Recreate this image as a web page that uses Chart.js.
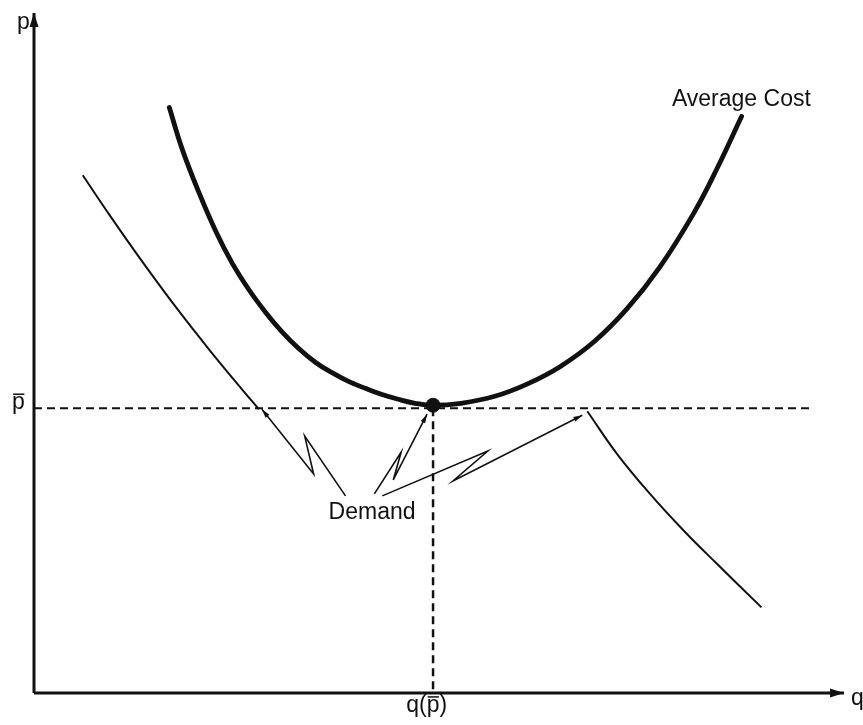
<!DOCTYPE html>
<html>
<head>
<meta charset="utf-8">
<script src="https://cdn.jsdelivr.net/npm/chart.js@4"></script>
<style>
  body { margin: 0; background: #fff; }
  canvas { display: block; }
</style>
</head>
<body>
<canvas id="chart" width="863" height="725"></canvas>
<script>
'use strict';

// everything is in axis units: q to the right, p upwards, origin at the corner of the axes

// Average Cost (U shaped)
let costQ = [13.6, 14.9, 16.6, 18.3, 19.9, 21.6, 23.3, 24.9, 26.6, 28.3, 29.9, 31.6, 33.3, 34.9, 36.6, 38.3, 40.1, 42.9, 46.3, 49.6, 52.9, 56.3, 59.6, 62.9, 66.3, 68.6, 71.1];
let costP = [58.8, 54.6, 50.2, 46.3, 43.2, 40.5, 38.2, 36.3, 34.6, 33.2, 32.2, 31.3, 30.6, 30.0, 29.5, 29.1, 28.9, 29.1, 29.8, 31.05, 32.8, 35.3, 38.6, 42.8, 48.2, 52.6, 57.9];

// demand curve on the left, ends on the p-bar line
let leftDemandQ = [4.9, 7.6, 10.9, 14.3, 17.6, 20.9, 22.6];
let leftDemandP = [52.0, 48.0, 43.3, 38.7, 34.5, 30.5, 28.5];

// demand curve on the right, starts on the p-bar line
let rightDemandQ = [55.6, 58.6, 61.9, 65.3, 68.6, 73.1];
let rightDemandP = [28.3, 24.0, 20.0, 16.3, 13.0, 8.6];

// minimum of average cost
let pBar = 28.6;
let qAtPBar = 40.1;
let pBarLineEnd = 78.1;

// zigzag leaders from the "Demand" label (last point is the arrow tip)
let leader1Q = [31.3, 27.2, 28.1, 22.9];
let leader1P = [19.8, 25.8, 22.0, 28.5];
let leader2Q = [34.2, 36.9, 36.1, 39.5];
let leader2P = [20.0, 24.2, 21.4, 28.0];
let leader3Q = [35.0, 45.6, 42.1, 55.1];
let leader3P = [19.8, 24.3, 21.3, 27.9];

// axis extents
let qAxisEnd = 81.4;
let pAxisEnd = 68.3;

let ink = '#111';

function toPoints(qs, ps) {
  return qs.map((q, i) => ({ x: q, y: ps[i] }));
}

function lineSet(qs, ps, width, extra) {
  return Object.assign({
    data: toPoints(qs, ps),
    showLine: true,
    borderColor: ink,
    backgroundColor: ink,
    borderWidth: width,
    pointRadius: 0,
    tension: 0,
    clip: false,
  }, extra || {});
}

const datasets = [
  // axes
  lineSet([0, 0], [0, pAxisEnd], 3, { arrowLen: 14, arrowWidth: 9 }),
  lineSet([0, qAxisEnd], [0, 0], 3, { arrowLen: 14, arrowWidth: 9 }),
  // dashed guides
  lineSet([0, pBarLineEnd], [pBar, pBar], 2, { borderDash: [8, 5] }),
  lineSet([qAtPBar, qAtPBar], [pBar, 0], 2.5, { borderDash: [8, 5] }),
  // curves
  lineSet(costQ, costP, 4.8, { tension: 0.4, borderCapStyle: 'round' }),
  lineSet(leftDemandQ, leftDemandP, 2, { tension: 0.4 }),
  lineSet(rightDemandQ, rightDemandP, 2, { tension: 0.4 }),
  // leaders
  lineSet(leader1Q, leader1P, 1.6, { arrowLen: 9, arrowWidth: 5 }),
  lineSet(leader2Q, leader2P, 1.6, { arrowLen: 9, arrowWidth: 5 }),
  lineSet(leader3Q, leader3P, 1.6, { arrowLen: 9, arrowWidth: 5 }),
  // the minimum point
  {
    data: [{ x: qAtPBar, y: costP[16] }],
    showLine: false,
    pointRadius: 7,
    pointBackgroundColor: ink,
    pointBorderColor: ink,
    clip: false,
  },
];

// labels: text, q, p (left edge and baseline); a barred p gets a drawn overline
let labelTexts = ['p', 'p̄', 'q(p̄)', 'q', 'Average Cost', 'Demand'];
let labelQ = [-1.7, -2.2, 37.4, 82.1, 64.1, 29.6];
let labelP = [66.7, 28.5, -1.9, -1.2, 59.0, 17.5];

const arrowHeads = {
  id: 'arrowHeads',
  afterDatasetsDraw(chart) {
    const ctx = chart.ctx;
    chart.data.datasets.forEach((ds, i) => {
      if (!ds.arrowLen) return;
      const pts = chart.getDatasetMeta(i).data;
      const tip = pts[pts.length - 1];
      const prev = pts[pts.length - 2];
      const ang = Math.atan2(tip.y - prev.y, tip.x - prev.x);
      ctx.save();
      ctx.translate(tip.x, tip.y);
      ctx.rotate(ang);
      ctx.beginPath();
      ctx.moveTo(0, 0);
      ctx.lineTo(-ds.arrowLen, ds.arrowWidth / 2);
      ctx.lineTo(-ds.arrowLen, -ds.arrowWidth / 2);
      ctx.closePath();
      ctx.fillStyle = ink;
      ctx.fill();
      ctx.restore();
    });
  }
};

const textLabels = {
  id: 'textLabels',
  afterDraw(chart) {
    const ctx = chart.ctx;
    const xs = chart.scales.x, ys = chart.scales.y;
    ctx.save();
    ctx.fillStyle = ink;
    ctx.strokeStyle = ink;
    ctx.lineWidth = 1.5;
    ctx.font = '23px "Liberation Sans", Arial, sans-serif';
    ctx.textAlign = 'left';
    ctx.textBaseline = 'alphabetic';
    labelTexts.forEach((t, i) => {
      let x = xs.getPixelForValue(labelQ[i]);
      const y = ys.getPixelForValue(labelP[i]);
      const parts = t.split('p̄');
      parts.forEach((part, j) => {
        ctx.fillText(part, x, y);
        x += ctx.measureText(part).width;
        if (j < parts.length - 1) {
          const w = ctx.measureText('p').width;
          ctx.fillText('p', x, y);
          ctx.beginPath();
          ctx.moveTo(x + 1, y - 15);
          ctx.lineTo(x + w - 0.5, y - 15);
          ctx.stroke();
          x += w;
        }
      });
    });
    ctx.restore();
  }
};

new Chart(document.getElementById('chart'), {
  type: 'scatter',
  data: { datasets: datasets },
  options: {
    responsive: false,
    animation: false,
    layout: { padding: { left: 34, right: 4, top: 5, bottom: 32 } },
    scales: {
      x: { type: 'linear', min: 0, max: 82.5, display: false },
      y: { type: 'linear', min: 0, max: 68.8, display: false },
    },
    plugins: {
      legend: { display: false },
      tooltip: { enabled: false },
    },
  },
  plugins: [arrowHeads, textLabels],
});
</script>
</body>
</html>
